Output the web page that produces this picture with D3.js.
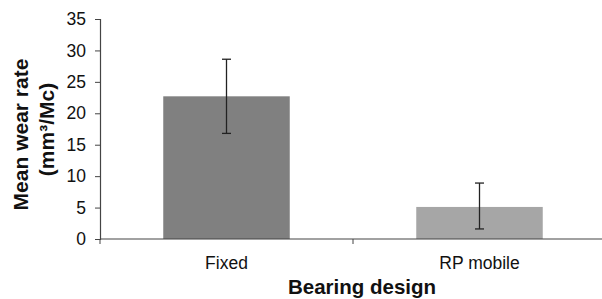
<!DOCTYPE html>
<html>
<head>
<meta charset="utf-8">
<script src="https://cdn.jsdelivr.net/npm/d3@7"></script>
<style>
  body { margin: 0; background: #fff; }
  svg { font-family: "Liberation Sans", Arial, sans-serif; }
</style>
</head>
<body>
<script>
// data
const categories = ['Fixed', 'RP mobile'];
const means = [22.7, 5.1];
const errLow = [16.8, 1.6];
const errHigh = [28.6, 8.9];
const yTicks = [0, 5, 10, 15, 20, 25, 30, 35];
const barColors = ['#808080', '#a6a6a6'];

const width = 602;
const height = 299;
const marginLeft = 100;
const plotTop = 19;
const plotBottom = 239;

const svg = d3.select('body')
  .append('svg')
  .attr('width', width)
  .attr('height', height);

const x = d3.scaleBand()
  .domain(categories)
  .range([marginLeft, marginLeft + 2 * 253])
  .paddingInner(0.5)
  .paddingOuter(0.25);

const y = d3.scaleLinear()
  .domain([0, 35])
  .range([plotBottom, plotTop]);

// bars
svg.selectAll('rect.bar')
  .data(categories)
  .join('rect')
  .attr('class', 'bar')
  .attr('x', (d) => x(d))
  .attr('width', x.bandwidth())
  .attr('y', (d, i) => y(means[i]))
  .attr('height', (d, i) => y(0) - y(means[i]))
  .attr('fill', (d, i) => barColors[i]);

// y axis
const gLeft = svg.append('g')
  .attr('transform', `translate(${marginLeft},0)`)
  .call(d3.axisLeft(y).tickValues(yTicks).tickSize(5).tickPadding(9));
gLeft.select('.domain').attr('stroke', '#444').attr('stroke-width', 1.2);
gLeft.selectAll('.tick line').attr('stroke', '#444');
gLeft.selectAll('.tick text')
  .attr('font-size', 17.5)
  .attr('fill', '#111')
  .attr('font-family', '"Liberation Sans", Arial, sans-serif');

// x axis line with ticks between categories
const step = x.step();
svg.append('line')
  .attr('x1', marginLeft).attr('x2', width)
  .attr('y1', y(0)).attr('y2', y(0))
  .attr('stroke', '#444').attr('stroke-width', 1.2);
[0, 1, 2].forEach((k) => {
  svg.append('line')
    .attr('x1', marginLeft + k * step).attr('x2', marginLeft + k * step)
    .attr('y1', y(0)).attr('y2', y(0) + 5)
    .attr('stroke', '#444');
});

svg.selectAll('text.cat')
  .data(categories)
  .join('text')
  .attr('class', 'cat')
  .attr('x', (d) => x(d) + x.bandwidth() / 2)
  .attr('y', 269)
  .attr('text-anchor', 'middle')
  .attr('font-size', 17.5)
  .attr('fill', '#111')
  .text((d) => d);

// error bars
const err = svg.selectAll('g.err')
  .data(categories)
  .join('g')
  .attr('class', 'err')
  .attr('stroke', '#222')
  .attr('stroke-width', 1.3);
err.append('line')
  .attr('x1', (d) => x(d) + x.bandwidth() / 2)
  .attr('x2', (d) => x(d) + x.bandwidth() / 2)
  .attr('y1', (d, i) => y(errLow[i]))
  .attr('y2', (d, i) => y(errHigh[i]));
[errLow, errHigh].forEach((arr) => {
  err.append('line')
    .attr('x1', (d) => x(d) + x.bandwidth() / 2 - 4.5)
    .attr('x2', (d) => x(d) + x.bandwidth() / 2 + 4.5)
    .attr('y1', (d, i) => y(arr[i]))
    .attr('y2', (d, i) => y(arr[i]));
});

// axis titles
svg.append('text')
  .attr('x', 362)
  .attr('y', 294)
  .attr('text-anchor', 'middle')
  .attr('font-size', 20.5)
  .attr('font-weight', 'bold')
  .attr('fill', '#111')
  .text('Bearing design');

const yTitle = svg.append('text')
  .attr('transform', 'rotate(-90)')
  .attr('text-anchor', 'middle')
  .attr('font-size', 21)
  .attr('font-weight', 'bold')
  .attr('fill', '#111');
yTitle.append('tspan').attr('x', -134.5).attr('y', 28).text('Mean wear rate');
yTitle.append('tspan').attr('x', -129.5).attr('y', 53.5).text('(mm³/Mc)');
</script>
</body>
</html>
